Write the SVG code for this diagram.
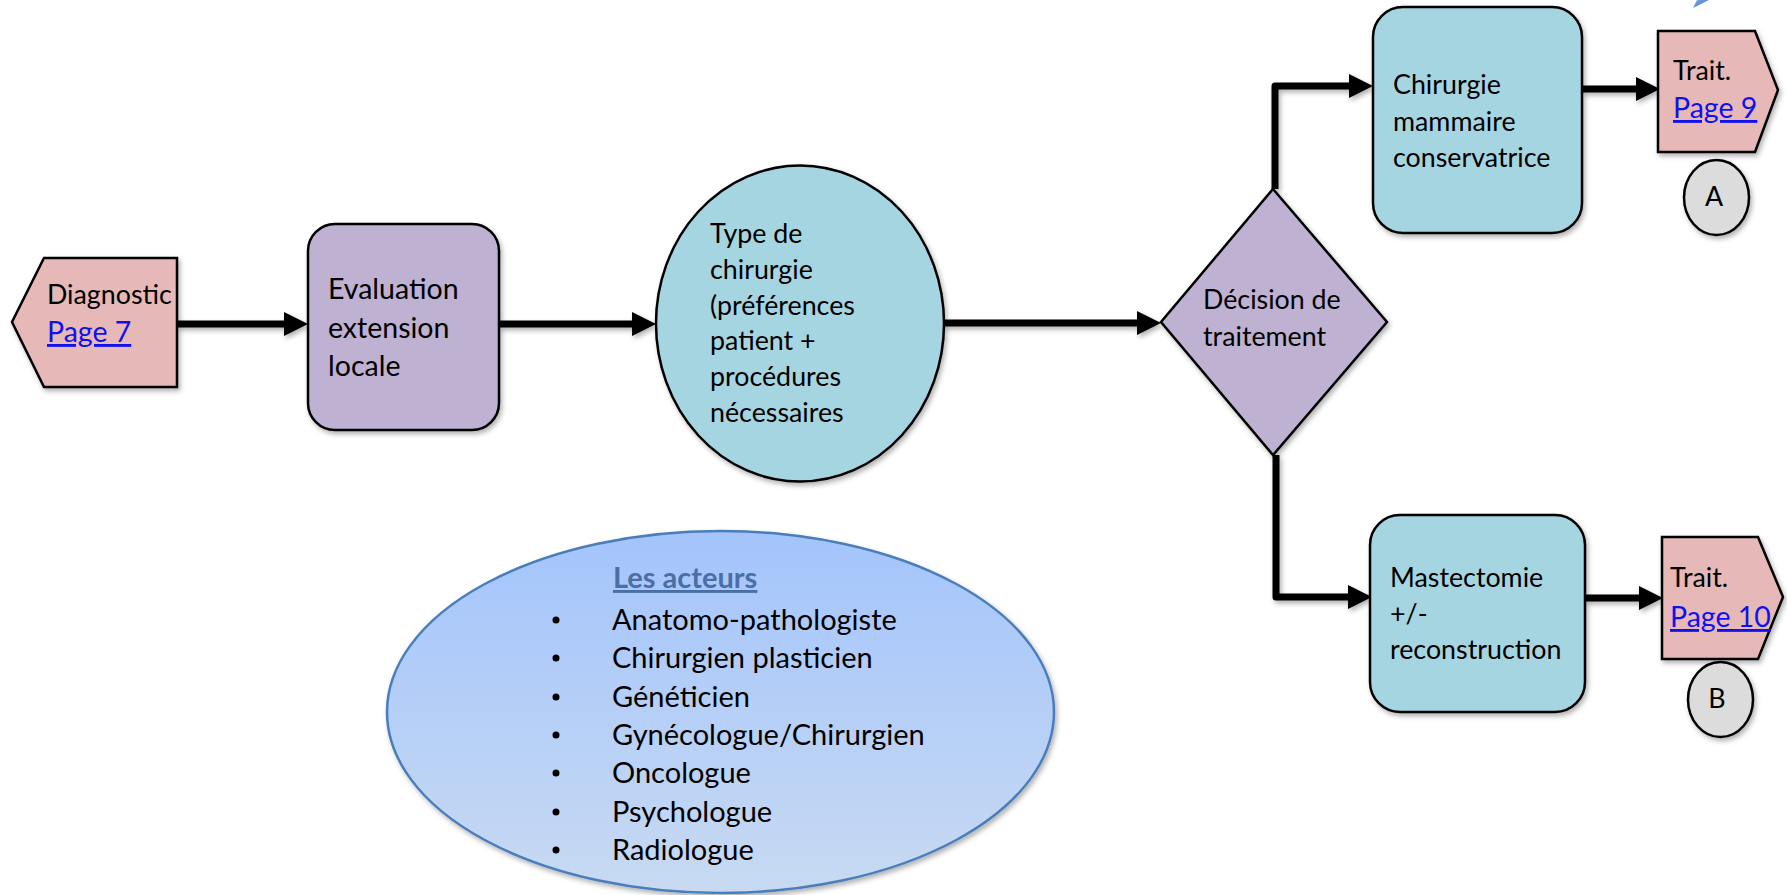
<svg xmlns="http://www.w3.org/2000/svg" width="1787" height="895" viewBox="0 0 1787 895">
  <style>
    .txt { font-family: Lato, "Liberation Sans", sans-serif; font-size: 26.8px; fill: #000; }
    .big { font-size: 28.5px; }
    .link { fill: #1111ee; text-decoration: underline; font-size: 28.5px; }
    .node { stroke: #000; stroke-width: 2.5; filter: url(#shadow); }
    .pink { fill: #e6b8b7; }
    .lav { fill: #bfb1d2; }
    .cyan { fill: #a6d5e2; }
    .gray { fill: #dcdcdc; }
    .conn { fill: none; stroke: #000; stroke-width: 7; stroke-linejoin: round; marker-end: url(#arrow); }
    .actor { font-family: Lato, "Liberation Sans", sans-serif; font-size: 29px; fill: #000; }
    .title { font-weight: bold; fill: #4a6fa6; text-decoration: underline; }
  </style>
  <defs>
    <filter id="shadow" x="-10%" y="-10%" width="130%" height="130%">
      <feDropShadow dx="2" dy="3" stdDeviation="2.5" flood-color="#000" flood-opacity="0.3"/>
    </filter>
    <!-- connectors include flat horizontal paths, so the filter region is set in user space -->
    <filter id="lineShadow" filterUnits="userSpaceOnUse" x="0" y="0" width="1787" height="895">
      <feDropShadow dx="2" dy="3" stdDeviation="2.5" flood-color="#000" flood-opacity="0.3"/>
    </filter>
    <marker id="arrow" markerUnits="userSpaceOnUse" markerWidth="24" markerHeight="24" refX="12" refY="12" orient="auto">
      <path d="M0,0 L24,12 L0,24 Z" fill="#000"/>
    </marker>
    <linearGradient id="actorsFill" x1="0" y1="0" x2="0" y2="1">
      <stop offset="0" stop-color="#a3c4fc"/>
      <stop offset="1" stop-color="#c8daf2"/>
    </linearGradient>
    <linearGradient id="blueTip" x1="0" y1="0" x2="1" y2="1">
      <stop offset="0" stop-color="#7aa6e6"/>
      <stop offset="1" stop-color="#3f78c8"/>
    </linearGradient>
  </defs>

  <!-- connectors -->
  <g id="connectors" filter="url(#lineShadow)">
    <path class="conn" d="M177,324 L296,324"/>
    <path class="conn" d="M499,324 L644,324"/>
    <path class="conn" d="M944,323 L1149,323"/>
    <path class="conn" d="M1275,189 L1275,86 L1361,86"/>
    <path class="conn" d="M1276,455 L1276,597 L1360,597"/>
    <path class="conn" d="M1582,89 L1648,89"/>
    <path class="conn" d="M1585,598 L1651,598"/>
  </g>

  <!-- tip of an off-page blue arrow -->
  <polygon points="1697,0 1709,0 1693,8" fill="url(#blueTip)"/>

  <g id="diagnostic">
    <polygon class="node pink" points="12,322 44,258 177,258 177,387 44,387"/>
    <text class="txt" x="47" y="304">Diagnostic</text>
    <text class="txt link" x="47" y="342">Page 7</text>
  </g>

  <g id="evaluation">
    <rect class="node lav" x="308" y="224" width="191" height="206" rx="27"/>
    <text class="txt big" x="328" y="299">Evaluation</text>
    <text class="txt big" x="328" y="338">extension</text>
    <text class="txt big" x="328" y="376">locale</text>
  </g>

  <g id="type-chirurgie">
    <ellipse class="node cyan" cx="800" cy="323.5" rx="144" ry="158"/>
    <text class="txt" x="710" y="243">Type de</text>
    <text class="txt" x="710" y="279">chirurgie</text>
    <text class="txt" x="710" y="315">(préférences</text>
    <text class="txt" x="710" y="350">patient +</text>
    <text class="txt" x="710" y="386">procédures</text>
    <text class="txt" x="710" y="422">nécessaires</text>
  </g>

  <g id="decision">
    <polygon class="node lav" points="1273,189 1387,322 1273,455 1161,322"/>
    <text class="txt" x="1203" y="309">Décision de</text>
    <text class="txt" x="1203" y="346">traitement</text>
  </g>

  <g id="chirurgie-conservatrice">
    <rect class="node cyan" x="1373" y="7" width="209" height="226" rx="30"/>
    <text class="txt" x="1393" y="94">Chirurgie</text>
    <text class="txt" x="1393" y="131">mammaire</text>
    <text class="txt" x="1393" y="167">conservatrice</text>
  </g>

  <g id="mastectomie">
    <rect class="node cyan" x="1370" y="515" width="215" height="197" rx="30"/>
    <text class="txt" x="1390" y="587">Mastectomie</text>
    <text class="txt" x="1390" y="623">+/-</text>
    <text class="txt" x="1390" y="659">reconstruction</text>
  </g>

  <g id="trait-a">
    <polygon class="node pink" points="1658,31 1755,31 1778,90 1755,152 1658,152"/>
    <text class="txt" x="1673" y="80">Trait.</text>
    <text class="txt link" x="1673" y="118">Page 9</text>
  </g>

  <g id="trait-b">
    <polygon class="node pink" points="1662,537 1758,537 1783,597 1758,659 1662,659"/>
    <text class="txt" x="1670" y="587">Trait.</text>
    <text class="txt link" x="1670" y="627">Page 10</text>
  </g>

  <g id="connector-a">
    <ellipse class="node gray" cx="1716.5" cy="197.5" rx="32.5" ry="37.5"/>
    <text class="txt" x="1714" y="206" font-size="22" text-anchor="middle">A</text>
  </g>

  <g id="connector-b">
    <ellipse class="node gray" cx="1720.5" cy="699.5" rx="32.5" ry="37.5"/>
    <text class="txt" x="1717" y="708" font-size="22" text-anchor="middle">B</text>
  </g>

  <g id="acteurs">
    <ellipse cx="720.5" cy="712" rx="333.5" ry="181" fill="url(#actorsFill)" stroke="#4a7ebb" stroke-width="2.5" filter="url(#shadow)"/>
    <text class="actor title" x="613" y="588">Les acteurs</text>
    <g fill="#000">
      <circle cx="556" cy="620" r="3.5"/>
      <circle cx="556" cy="658" r="3.5"/>
      <circle cx="556" cy="697" r="3.5"/>
      <circle cx="556" cy="735" r="3.5"/>
      <circle cx="556" cy="773" r="3.5"/>
      <circle cx="556" cy="812" r="3.5"/>
      <circle cx="556" cy="850" r="3.5"/>
    </g>
    <text class="actor" x="612" y="630">Anatomo-pathologiste</text>
    <text class="actor" x="612" y="668">Chirurgien plasticien</text>
    <text class="actor" x="612" y="707">Généticien</text>
    <text class="actor" x="612" y="745">Gynécologue/Chirurgien</text>
    <text class="actor" x="612" y="783">Oncologue</text>
    <text class="actor" x="612" y="822">Psychologue</text>
    <text class="actor" x="612" y="860">Radiologue</text>
  </g>
</svg>
